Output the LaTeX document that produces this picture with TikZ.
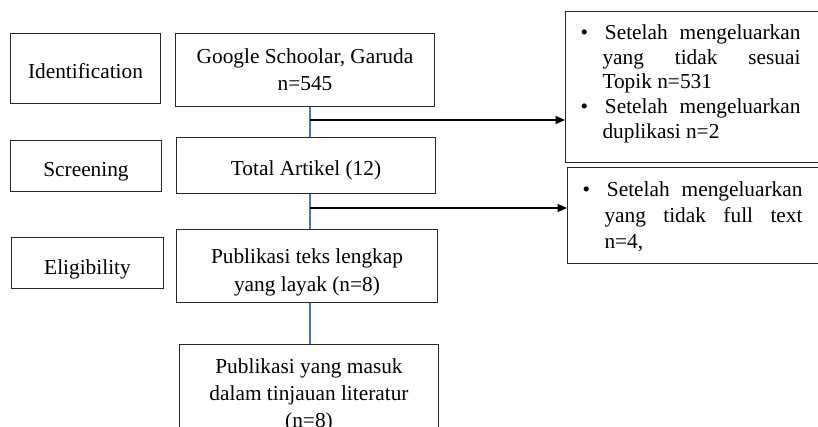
\documentclass[tikz,border=0pt]{standalone}
\usepackage{fontspec}
\setmainfont{Liberation Serif}
\usetikzlibrary{arrows.meta}
\definecolor{spineblue}{RGB}{68,114,196}
\newcommand{\dropstrut}[1]{\rule{0pt}{#1}}
\newcommand{\bottompad}[1]{\par\vspace*{#1}\hrule height 0pt width 0pt}
\newenvironment{bulletlist}{\begin{list}{\textbullet}{\setlength{\leftmargin}{16.5pt}\setlength{\labelsep}{12.75pt}\setlength{\labelwidth}{3.75pt}\setlength{\rightmargin}{30pt}\setlength{\topsep}{0pt}\setlength{\partopsep}{0pt}\setlength{\parsep}{0pt}\setlength{\itemsep}{0pt}}}{\end{list}}
\begin{document}
\begin{tikzpicture}[x=0.75pt,y=-0.75pt,
  box/.style={draw=black!85, line width=0.75pt, inner sep=0pt, align=center, anchor=north west, font=\fontsize{16}{20.5}\selectfont},
  bluel/.style={draw=spineblue, line width=1.5pt},
  arr/.style={draw=black, line width=0.9pt, -{Triangle[length=7pt,width=6pt]}},
  listbox/.style={draw=black!85, line width=0.75pt, anchor=north west, inner xsep=11.25pt, inner ysep=0pt, text width=195pt, align=justify, font=\fontsize{16}{18.4}\selectfont}
]
\useasboundingbox (0,0) rectangle (818,427);
\begin{scope}
\clip (0,0) rectangle (818,427);
% stage labels
\node[box, minimum width=112.5pt, minimum height=52.5pt] (ident) at (10,33) {\dropstrut{15.5pt}Identification};
\node[box, minimum width=113.25pt, minimum height=38.25pt] (screen) at (10,140) {\dropstrut{19pt}Screening};
\node[box, minimum width=114pt, minimum height=38.25pt] (elig) at (11,237) {\dropstrut{20pt}Eligibility};
% main column
\node[box, minimum width=194.25pt, minimum height=54.75pt] (g) at (175,33) {Google Schoolar, Garuda\\n=545};
\node[box, minimum width=194.25pt, minimum height=42pt] (t) at (176,137) {\dropstrut{19pt}Total Artikel (12)};
\node[box, minimum width=195.75pt, minimum height=54.75pt] (p) at (176,229) {\dropstrut{20.5pt}Publikasi teks lengkap\\yang layak (n=8)};
\node[box, minimum width=194.25pt, inner ysep=10.5pt] (f) at (179,344) {Publikasi yang masuk\\dalam tinjauan literatur\\(n=8)};
% exclusion boxes
\node[listbox, minimum height=113.25pt] (r1) at (565,11) {\begin{bulletlist}
\item Setelah mengeluarkan\linebreak yang tidak sesuai\linebreak Topik n=531
\item Setelah mengeluarkan\linebreak duplikasi n=2
\end{bulletlist}\bottompad{12pt}};
\node[listbox, minimum height=72pt, font=\fontsize{16}{19.5}\selectfont] (r2) at (567,167) {\begin{bulletlist}
\item Setelah mengeluarkan\linebreak yang tidak full text\linebreak n=4,
\end{bulletlist}\bottompad{6pt}};
% connectors
\coordinate (spine) at (310,0);
\coordinate (j1) at (310,120);
\coordinate (j2) at (310,208);
\draw[bluel] (g.south -| spine) -- (t.north -| spine);
\draw[bluel] (t.south -| spine) -- (p.north -| spine);
\draw[bluel] (p.south -| spine) -- (f.north -| spine);
\draw[arr] (j1) -- (j1 -| r1.west);
\draw[arr] (j2) -- (j2 -| r2.west);
\end{scope}
\end{tikzpicture}
\end{document}
